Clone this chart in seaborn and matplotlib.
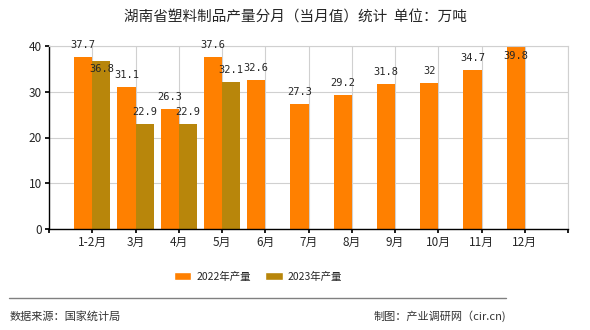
import matplotlib
matplotlib.use("Agg")
import matplotlib.pyplot as plt
import seaborn as sns
import pandas as pd
import numpy as np
from matplotlib.patches import Patch

categories = ["1-2月", "3月", "4月", "5月", "6月", "7月", "8月", "9月", "10月", "11月", "12月"]
values_2022 = [37.7, 31.1, 26.3, 37.6, 32.6, 27.3, 29.2, 31.8, 32, 34.7, 39.8]
values_2023 = [36.8, 22.9, 22.9, 32.1, None, None, None, None, None, None, None]
series_names = ["2022年产量", "2023年产量"]
colors = ["#FF8000", "#B8860B"]
yticks = [0, 10, 20, 30, 40]

sns.set_theme(style="white")
plt.rcParams['font.family'] = ['Noto Sans CJK SC', 'DejaVu Sans']

rows = []
for c, v in zip(categories, values_2022):
    rows.append({"month": c, "series": series_names[0], "value": v})
for c, v in zip(categories, values_2023):
    rows.append({"month": c, "series": series_names[1], "value": v if v is not None else np.nan})
df = pd.DataFrame(rows)

fig = plt.figure(figsize=(5.9, 3.3), dpi=100)
ax = fig.add_axes([49/590, 1 - 229/330, (568-49)/590, (229-46)/330])

order = [""] + categories
sns.barplot(data=df, x="month", y="value", hue="series", order=order,
            palette=colors, width=0.84, saturation=1, ax=ax, legend=False, gap=0,
            linewidth=0, edgecolor="none")

ax.set_xlim(0, 12)
ax.set_ylim(0, 40)
ax.set_yticks(yticks)
ax.set_xticks(range(0, 13))
ax.set_xticklabels([""] + categories + [""], fontsize=8.5)
ax.tick_params(axis="y", labelsize=8.5, length=3, color="black", left=True, pad=2)
ax.tick_params(axis="x", length=3, color="black", bottom=True, pad=2)
ax.set_xlabel("")
ax.set_ylabel("")
ax.grid(True, color="#D0D0D0", linewidth=0.8)
ax.set_axisbelow(True)
for s in ["top", "right"]:
    ax.spines[s].set_color("#D0D0D0")
    ax.spines[s].set_linewidth(0.8)
for s in ["left", "bottom"]:
    ax.spines[s].set_color("black")
    ax.spines[s].set_linewidth(1)

# value labels (pixel offsets from bar top; some pushed inside as in reference)
px = 72 / 100
special = {("2022", 10): -9, ("2023", 0): -8}
for si, container in enumerate(ax.containers):
    key = "2022" if si == 0 else "2023"
    for bi, bar in enumerate(container):
        h = bar.get_height()
        if np.isnan(h):
            continue
        off = special.get((key, bi), 12)
        top = min(h, 40)
        ax.annotate(f"{h:g}", (bar.get_x() + bar.get_width() / 2, top),
                    xytext=(0, off * px), textcoords="offset points",
                    ha="center", va="center", fontsize=7.5,
                    family=['DejaVu Sans Mono', 'DejaVu Sans'], annotation_clip=False)

fig.text(0.5, 1 - 18/330, "湖南省塑料制品产量分月（当月值）统计  单位：万吨",
         ha="center", va="center", fontsize=10.5)

handles = [Patch(facecolor=colors[0]), Patch(facecolor=colors[1])]
fig.legend(handles, series_names, loc="center", bbox_to_anchor=(258/590, 1 - 277/330),
           ncol=2, frameon=False, fontsize=7.5, handlelength=1.7, handleheight=0.8,
           columnspacing=1.35, handletextpad=0.5)

fig.add_artist(plt.Line2D([9/590, 506/590], [1 - 298/330, 1 - 298/330],
                          color="#808080", linewidth=1))
fig.text(10/590, 1 - 316/330, "数据来源：国家统计局", ha="left", va="center", fontsize=8, color="#333333")
fig.text(506/590, 1 - 316/330, "制图：产业调研网（cir.cn)", ha="right", va="center", fontsize=8, color="#333333")

fig.savefig("out.png", dpi=100)
